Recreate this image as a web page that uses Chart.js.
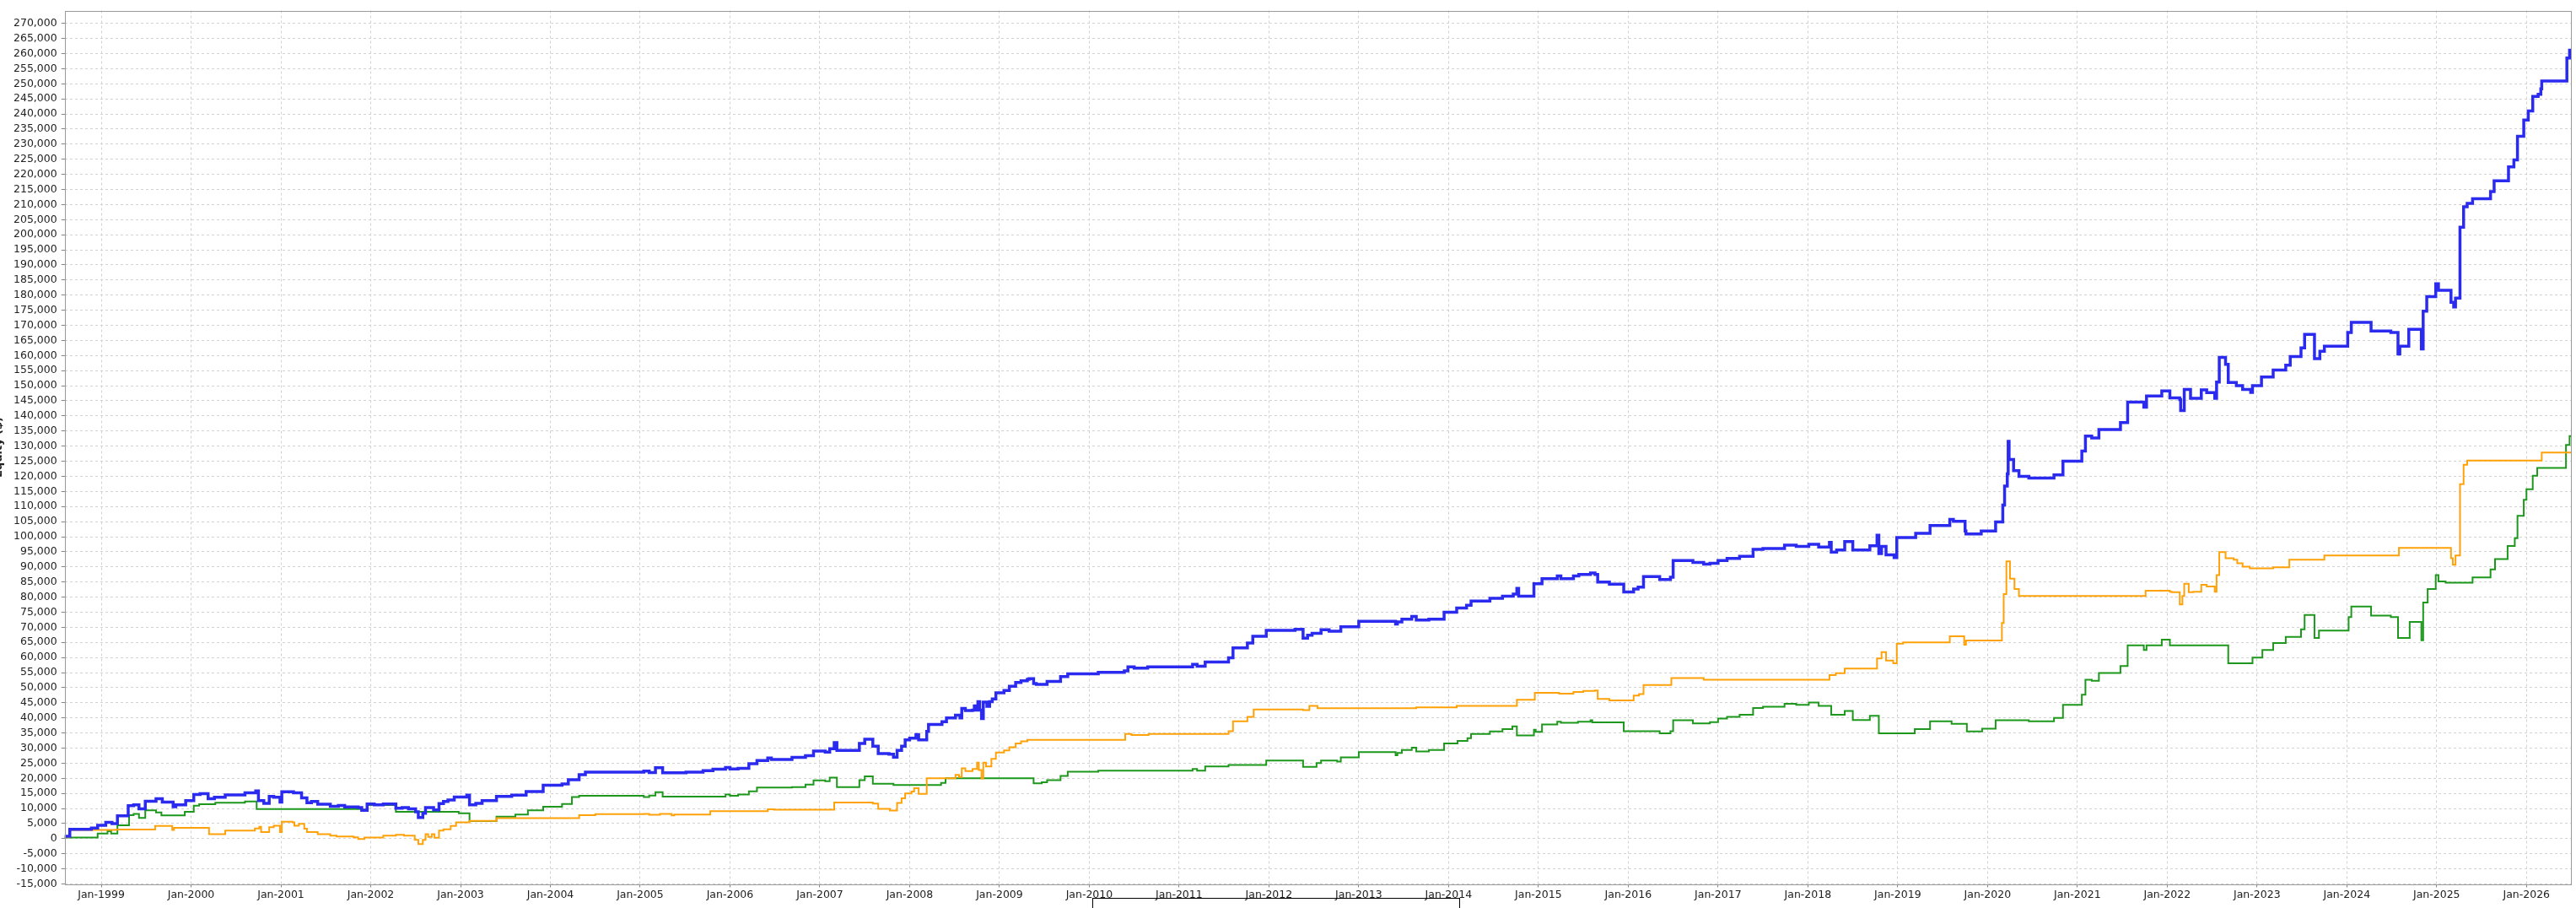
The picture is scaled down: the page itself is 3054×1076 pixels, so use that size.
<!DOCTYPE html>
<html>
<head>
<meta charset="utf-8">
<script src="https://cdn.jsdelivr.net/npm/chart.js@4.4.1/dist/chart.umd.min.js"></script>
<style>
html,body{margin:0;padding:0;background:#ffffff;overflow:hidden}
canvas{display:block}
</style>
</head>
<body>
<canvas id="c" width="3054" height="1076"></canvas>
<script>
// ---------- DATA ----------
const yAxisTitle = 'Equity ($)';
const seriesNames = ['Total', 'Long', 'Short'];
const xTickYears = [1999,2000,2001,2002,2003,2004,2005,2006,2007,2008,2009,2010,2011,2012,2013,2014,2015,2016,2017,2018,2019,2020,2021,2022,2023,2024,2025,2026];
const xRange = [1998.593, 2026.498];
const yRange = [-15000, 274250];
const yTickStep = 5000;

// [decimal year, equity]
const totalEquity = [
[1998.59,800],[1998.65,3100],[1998.89,3500],[1998.96,4400],[1999.05,5400],[1999.12,5000],[1999.18,7600],[1999.30,10900],
[1999.36,11200],[1999.42,9900],[1999.49,12400],[1999.61,13200],[1999.68,12100],[1999.80,10600],[1999.83,11200],[1999.94,12600],
[2000.03,14600],[2000.10,14900],[2000.19,13200],[2000.26,13700],[2000.38,14500],[2000.60,15200],[2000.72,15800],[2000.75,12600],
[2000.81,11700],[2000.87,14000],[2000.92,13700],[2000.99,12100],[2001.01,15500],[2001.14,15200],[2001.23,13500],[2001.29,11900],
[2001.34,12300],[2001.41,11400],[2001.55,10700],[2001.64,11000],[2001.71,10500],[2001.86,10300],[2001.90,9400],[2001.96,11500],
[2002.04,11200],[2002.14,11500],[2002.28,10100],[2002.35,10300],[2002.42,9900],[2002.50,8900],[2002.53,7000],[2002.58,8400],
[2002.61,10300],[2002.70,9500],[2002.76,11600],[2002.81,12300],[2002.86,12800],[2002.93,13800],[2003.07,14400],[2003.10,11200],
[2003.17,11700],[2003.24,12600],[2003.40,14000],[2003.57,14400],[2003.73,15600],[2003.92,17700],[2004.13,18100],[2004.20,19500],
[2004.32,21200],[2004.39,22000],[2005.04,22400],[2005.10,21900],[2005.17,23500],[2005.25,21800],[2005.51,22000],[2005.70,22500],
[2005.81,23000],[2005.95,23600],[2006.00,23100],[2006.09,23300],[2006.21,24800],[2006.30,25900],[2006.42,26700],[2006.46,26200],
[2006.69,26900],[2006.84,27500],[2006.93,29000],[2007.06,28700],[2007.11,29800],[2007.16,31800],[2007.19,29200],[2007.44,31500],
[2007.50,32900],[2007.59,30600],[2007.65,28200],[2007.77,28000],[2007.82,27000],[2007.86,29200],[2007.91,30600],[2007.95,32700],
[2008.00,33300],[2008.07,34500],[2008.10,32700],[2008.19,35500],[2008.21,37800],[2008.36,38700],[2008.41,40000],[2008.51,40900],
[2008.56,40000],[2008.58,43100],[2008.62,42400],[2008.70,42600],[2008.72,44000],[2008.745,42600],[2008.76,45400],[2008.78,42600],
[2008.80,39800],[2008.82,45200],[2008.86,43800],[2008.89,45400],[2008.92,46300],[2008.96,48300],[2009.05,49100],[2009.11,50500],
[2009.18,51700],[2009.24,52300],[2009.31,52800],[2009.33,53000],[2009.38,51400],[2009.41,51100],[2009.53,52100],[2009.68,53700],
[2009.76,54600],[2010.10,55100],[2010.39,55600],[2010.43,56900],[2010.50,56500],[2010.65,56900],[2011.15,57700],[2011.20,57100],
[2011.29,58500],[2011.55,59900],[2011.60,63200],[2011.76,64800],[2011.82,67000],[2011.97,69000],[2012.29,69300],[2012.38,66400],
[2012.43,67400],[2012.48,68000],[2012.58,69200],[2012.67,68700],[2012.80,70200],[2013.00,72000],[2013.41,71100],[2013.43,71800],
[2013.48,72700],[2013.59,73600],[2013.64,72400],[2013.78,72700],[2013.95,75000],[2014.09,76400],[2014.20,77300],[2014.25,78700],
[2014.46,79600],[2014.60,80300],[2014.72,81000],[2014.76,82900],[2014.78,80300],[2014.95,84400],[2015.04,86100],[2015.21,87000],
[2015.25,86100],[2015.39,87000],[2015.45,87500],[2015.58,88000],[2015.63,87500],[2015.66,85000],[2015.79,84300],[2015.95,81700],
[2016.06,82700],[2016.11,83300],[2016.17,86800],[2016.35,85800],[2016.47,86600],[2016.50,92100],[2016.72,91500],[2016.84,90900],
[2016.91,91200],[2017.00,92100],[2017.10,92800],[2017.24,93500],[2017.39,95800],[2017.50,96100],[2017.74,97200],[2017.87,96800],
[2018.01,97500],[2018.12,96600],[2018.24,98100],[2018.26,94900],[2018.32,95600],[2018.41,98400],[2018.50,95600],[2018.69,97000],
[2018.77,100500],[2018.79,94400],[2018.82,96800],[2018.87,94000],[2018.96,93100],[2018.99,99700],[2019.20,101100],[2019.36,103700],
[2019.58,105700],[2019.62,105100],[2019.75,101900],[2019.76,100900],[2019.93,101900],[2020.09,104900],[2020.17,110500],[2020.19,116800],
[2020.22,120800],[2020.23,131600],[2020.24,125600],[2020.29,121900],[2020.35,120000],[2020.46,119400],[2020.74,120500],[2020.84,125000],
[2021.05,128400],[2021.09,133300],[2021.16,132700],[2021.24,135500],[2021.48,137800],[2021.56,144600],[2021.74,142900],[2021.77,146600],
[2021.94,148300],[2022.03,146000],[2022.14,145400],[2022.15,141800],[2022.19,148800],[2022.26,145800],[2022.38,148600],[2022.44,147700],
[2022.53,145800],[2022.55,151200],[2022.58,159400],[2022.65,157100],[2022.68,151100],[2022.77,150000],[2022.84,148800],[2022.93,147800],
[2022.95,150000],[2023.05,152900],[2023.18,155200],[2023.32,156800],[2023.37,159700],[2023.49,162500],[2023.53,167000],[2023.64,159000],
[2023.70,161400],[2023.75,163100],[2024.01,167600],[2024.05,171000],[2024.27,168100],[2024.49,167600],[2024.57,160500],[2024.59,163100],
[2024.69,168700],[2024.83,162200],[2024.85,174700],[2024.89,179500],[2024.99,183800],[2025.02,181600],[2025.16,177600],[2025.19,176100],
[2025.21,179000],[2025.26,202500],[2025.30,209300],[2025.34,210400],[2025.40,211900],[2025.60,214300],[2025.64,217900],[2025.80,222500],
[2025.86,224800],[2025.90,232600],[2025.97,238000],[2026.02,241000],[2026.07,245800],[2026.13,246500],[2026.16,248300],[2026.17,250900],
[2026.45,258500],[2026.48,261100],[2026.50,261100]
];

const longEquity = [
[1998.59,500],[1998.65,2900],[1999.17,3000],[1999.60,4200],[1999.79,2900],[1999.81,3600],[2000.20,1500],[2000.38,2700],
[2000.71,3400],[2000.76,3900],[2000.78,2200],[2000.87,3800],[2000.92,4300],[2000.99,2200],[2001.01,5600],[2001.13,5400],
[2001.15,4300],[2001.20,4900],[2001.26,3300],[2001.29,2200],[2001.41,1500],[2001.55,1000],[2001.62,740],[2001.81,460],
[2001.86,-100],[2001.93,370],[2002.14,1000],[2002.28,1300],[2002.37,1000],[2002.49,-370],[2002.53,-1800],[2002.58,-370],
[2002.61,1500],[2002.64,550],[2002.68,1500],[2002.71,280],[2002.76,2700],[2002.81,3100],[2002.89,4200],[2002.95,5400],
[2003.10,5900],[2003.40,6800],[2004.32,7800],[2004.50,8100],[2005.04,8200],[2005.10,7900],[2005.22,8200],[2005.35,7700],
[2005.38,8000],[2005.78,9100],[2006.42,9700],[2006.49,9600],[2007.16,12000],[2007.59,11600],[2007.65,9900],[2007.78,9300],
[2007.86,11800],[2007.91,13400],[2007.95,15000],[2008.02,15600],[2008.05,16700],[2008.10,14800],[2008.19,20000],[2008.51,21100],
[2008.55,20400],[2008.58,23300],[2008.62,22400],[2008.70,23100],[2008.75,25200],[2008.77,22700],[2008.80,19900],[2008.82,25200],
[2008.85,23900],[2008.91,26400],[2008.96,28500],[2009.05,29200],[2009.11,30300],[2009.18,31500],[2009.24,32200],[2009.31,32700],
[2010.40,34700],[2010.47,34300],[2010.66,34700],[2011.55,35600],[2011.60,38900],[2011.76,40300],[2011.83,42800],[2012.38,42600],
[2012.45,44000],[2012.54,43200],[2013.64,43500],[2014.09,44000],[2014.76,46000],[2014.96,48300],[2015.23,48000],[2015.39,48600],
[2015.50,48900],[2015.63,49100],[2015.66,46300],[2015.79,45800],[2016.06,47400],[2016.12,47900],[2016.17,50900],[2016.48,53200],
[2016.84,52600],[2018.24,54200],[2018.31,54800],[2018.41,56300],[2018.77,59700],[2018.82,61800],[2018.87,59000],[2018.95,58100],
[2018.99,64600],[2019.06,65000],[2019.58,67000],[2019.74,64200],[2019.76,65600],[2020.16,71400],[2020.18,81000],[2020.21,91800],
[2020.25,86100],[2020.30,82700],[2020.35,80400],[2021.76,82100],[2022.03,81800],[2022.05,81600],[2022.14,77600],[2022.17,80400],
[2022.19,84400],[2022.24,81600],[2022.29,81800],[2022.38,84100],[2022.44,83500],[2022.53,81800],[2022.55,87300],[2022.58,94900],
[2022.65,92900],[2022.74,92400],[2022.78,91200],[2022.84,90100],[2022.92,89500],[2023.18,89900],[2023.36,92400],[2023.75,93800],
[2024.58,96300],[2025.16,92900],[2025.18,90700],[2025.21,93800],[2025.26,117400],[2025.30,123800],[2025.34,125200],[2026.17,127900],
[2026.50,127900]
];

const shortEquity = [
[1998.59,400],[1998.96,1700],[1999.07,2500],[1999.11,1700],[1999.18,4400],[1999.31,7800],[1999.36,8200],[1999.42,6900],
[1999.49,9400],[1999.61,8700],[1999.67,7700],[1999.93,8900],[2000.03,10900],[2000.09,11400],[2000.27,11900],[2000.60,12300],
[2000.73,9800],[2001.90,9600],[2001.96,11100],[2002.28,8900],[2002.98,8400],[2003.10,5800],[2003.40,7300],[2003.61,8000],
[2003.75,9400],[2003.92,10600],[2004.13,11500],[2004.24,13800],[2004.32,14200],[2005.04,13800],[2005.10,14300],[2005.17,15400],
[2005.25,13900],[2005.95,14600],[2006.00,14200],[2006.09,14600],[2006.21,15700],[2006.30,16900],[2006.69,17100],[2006.84,17900],
[2006.93,19300],[2007.06,19000],[2007.11,20200],[2007.19,17100],[2007.44,19400],[2007.50,20600],[2007.59,18200],[2007.82,17800],
[2008.35,18500],[2008.40,20000],[2009.38,18300],[2009.47,18700],[2009.53,19400],[2009.68,20800],[2009.76,22200],[2010.10,22500],
[2011.15,23100],[2011.20,22500],[2011.29,23900],[2011.55,24400],[2011.97,25900],[2012.38,23800],[2012.53,25000],[2012.58,25900],
[2012.76,25500],[2012.80,26900],[2013.00,28700],[2013.41,27600],[2013.43,28400],[2013.48,29400],[2013.59,30100],[2013.64,28900],
[2013.78,29400],[2013.95,31500],[2014.10,32400],[2014.21,33300],[2014.25,34700],[2014.46,35500],[2014.60,36300],[2014.71,37200],
[2014.76,34200],[2014.95,36100],[2014.97,35400],[2015.04,37800],[2015.21,38700],[2015.25,38400],[2015.44,38700],[2015.58,39200],
[2015.60,38500],[2015.95,35600],[2016.35,34900],[2016.47,35600],[2016.50,39200],[2016.72,38200],[2016.91,38600],[2017.00,39800],
[2017.10,40300],[2017.24,41000],[2017.39,43300],[2017.50,43700],[2017.74,44700],[2017.87,44300],[2018.01,45100],[2018.12,44000],
[2018.26,41000],[2018.41,42300],[2018.50,39300],[2018.69,40700],[2018.79,34900],[2019.19,36300],[2019.36,38900],[2019.60,38000],
[2019.77,35500],[2019.94,36400],[2020.09,39200],[2020.46,38900],[2020.74,40000],[2020.84,44300],[2021.05,47700],[2021.09,52600],
[2021.16,52300],[2021.24,54900],[2021.48,57200],[2021.56,64000],[2021.74,62500],[2021.77,64000],[2021.94,65900],[2022.03,64000],
[2022.68,58100],[2022.95,60000],[2023.06,62500],[2023.18,64800],[2023.32,66800],[2023.49,69300],[2023.53,74100],[2023.64,66500],
[2023.69,68900],[2024.02,73400],[2024.05,76900],[2024.27,73900],[2024.49,73400],[2024.57,66500],[2024.70,71800],[2024.83,65700],
[2024.85,78200],[2024.90,82700],[2024.99,87300],[2025.02,85200],[2025.10,84800],[2025.40,86500],[2025.60,89200],[2025.65,92600],
[2025.79,96900],[2025.87,99500],[2025.90,106900],[2025.97,112200],[2026.00,115700],[2026.07,120200],[2026.12,122800],[2026.44,130400],
[2026.48,133300],[2026.50,133300]
];

const seriesColors = ['#2b2bef', '#ffa20a', '#1d981d'];
const seriesWidths = [3.5, 2, 2];

// ---------- CHART ----------
const toXY = arr => arr.map(p => ({x: p[0], y: p[1]}));
const tickFont = {family: 'DejaVu Sans', size: 12.5};

const framePlugin = {
  id: 'frame',
  afterDatasetsDraw(chart) {
    const {ctx, chartArea: a} = chart;
    ctx.save();
    ctx.strokeStyle = '#9a9a9a';
    ctx.lineWidth = 1;
    ctx.setLineDash([]);
    ctx.strokeRect(Math.round(a.left) + 0.5, Math.round(a.top) + 0.5, Math.round(a.right - a.left) - 1, Math.round(a.bottom - a.top));
    ctx.restore();
  },
  afterDraw(chart) {
    const {ctx, chartArea: a, width} = chart;
    ctx.save();
    // y-axis title (clipped at left edge as in the original)
    ctx.translate(2, (a.top + a.bottom) / 2);
    ctx.rotate(-Math.PI / 2);
    ctx.font = 'bold 13px DejaVu Sans';
    ctx.fillStyle = '#222';
    ctx.textAlign = 'center';
    ctx.textBaseline = 'alphabetic';
    ctx.fillText(yAxisTitle, 0, 0);
    ctx.restore();
    // legend box (cut off at bottom)
    ctx.save();
    ctx.strokeStyle = '#000';
    ctx.lineWidth = 1;
    const lw = 435, lx = Math.round(width / 2 - 15 - lw / 2);
    ctx.strokeRect(lx + 0.5, 1064.5, lw, 40);
    ctx.restore();
  }
};

new Chart(document.getElementById('c').getContext('2d'), {
  type: 'line',
  data: {
    datasets: [totalEquity, longEquity, shortEquity].map((s, i) => ({
      label: seriesNames[i],
      data: toXY(s),
      borderColor: seriesColors[i],
      backgroundColor: seriesColors[i],
      borderWidth: seriesWidths[i],
      stepped: true,
      pointRadius: 0,
      pointHoverRadius: 0,
      fill: false,
      borderCapStyle: 'square',
      borderJoinStyle: 'miter'
    }))
  },
  options: {
    responsive: false,
    animation: false,
    devicePixelRatio: 1,
    layout: {padding: {left: 0, right: 5.7, top: 6, bottom: 0}},
    plugins: {legend: {display: false}, tooltip: {enabled: false}, title: {display: false}},
    scales: {
      x: {
        type: 'linear',
        min: xRange[0],
        max: xRange[1],
        afterBuildTicks: s => { s.ticks = xTickYears.map(v => ({value: v})); },
        afterFit: s => { s.height = 28.5; },
        ticks: {callback: v => 'Jan-' + v, font: tickFont, color: '#222', padding: 2, maxRotation: 0, autoSkip: false},
        grid: {color: '#d2d2d2', lineWidth: 1, drawTicks: true, tickLength: 4, tickColor: '#888', tickBorderDash: [], tickWidth: 1},
        border: {display: false, dash: [3, 3]}
      },
      y: {
        type: 'linear',
        min: yRange[0],
        max: yRange[1],
        afterBuildTicks: s => {
          const t = [];
          for (let v = yRange[0]; v <= yRange[1]; v += yTickStep) t.push({value: v});
          s.ticks = t;
        },
        afterFit: s => { s.width = 76.7; },
        ticks: {callback: v => v.toLocaleString('en-US'), font: tickFont, color: '#222', padding: 5, autoSkip: false},
        grid: {color: '#d2d2d2', lineWidth: 1, drawTicks: true, tickLength: 4, tickColor: '#888', tickBorderDash: [], tickWidth: 1},
        border: {display: false, dash: [3, 3]}
      }
    }
  },
  plugins: [framePlugin]
});
</script>
</body>
</html>
